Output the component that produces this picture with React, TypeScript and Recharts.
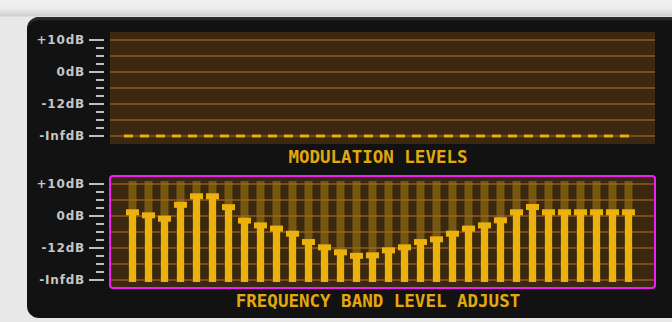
import { ComposedChart, Bar, Line, XAxis, YAxis, CartesianGrid } from "recharts"

// 32 frequency bands, slider positions in grid steps (0 = -InfdB, 2 = -12dB, 4 = 0dB, 6 = +10dB)
const bands = [1, 2, 3, 4, 5, 6, 7, 8, 9, 10, 11, 12, 13, 14, 15, 16, 17, 18, 19, 20, 21, 22, 23, 24, 25, 26, 27, 28, 29, 30, 31, 32]
const bandLevels = [4.42, 4.23, 4.02, 4.89, 5.42, 5.42, 4.74, 3.9, 3.6, 3.4, 3.08, 2.56, 2.23, 1.92, 1.7, 1.73, 2.04, 2.23, 2.56, 2.73, 3.08, 3.4, 3.6, 3.92, 4.42, 4.75, 4.42, 4.42, 4.42, 4.42, 4.42, 4.42]
const modulationLevels = [0, 0, 0, 0, 0, 0, 0, 0, 0, 0, 0, 0, 0, 0, 0, 0, 0, 0, 0, 0, 0, 0, 0, 0, 0, 0, 0, 0, 0, 0, 0, 0]

const axisTicks = [0, 0.5, 1, 1.5, 2, 2.5, 3, 3.5, 4, 4.5, 5, 5.5, 6]
const tickLabels: Record<number, string> = { 6: "+10dB", 4: "0dB", 2: "-12dB", 0: "-InfdB" }
const gridLevels = [0, 1, 2, 3, 4, 5, 6]

const data = bands.map((band, i) => ({ band, level: bandLevels[i], mod: modulationLevels[i] }))

const PLOT_BG = "#3a2810"
const GRID = "#7e4b1e"
const YELLOW = "#ebb20d"

function LevelTick(props: any) {
  const { x, y, payload } = props
  const label = tickLabels[payload.value]
  const major = label !== undefined
  return (
    <g>
      <line x1={x - (major ? 21 : 14)} x2={x - 6} y1={y} y2={y} stroke="#bdbdbd" strokeWidth={2} />
      {major && (
        <text
          x={x - 25}
          y={y}
          dy={4}
          textAnchor="end"
          fill="#c6c6c6"
          fontSize={12}
          fontWeight="bold"
          fontFamily="DejaVu Sans"
          letterSpacing={0.8}
        >
          {label}
        </text>
      )}
    </g>
  )
}

// slider: faint track behind, stem + cap in yellow
function SliderShape(props: any) {
  const { x, y, width, height, background } = props
  const cx = x + width / 2
  const bottom = y + height + 2
  const trackTop = background ? background.y + 5 : y
  return (
    <g>
      <rect x={cx - 4} y={trackTop} width={8} height={bottom - trackTop} fill="#9a7412" fillOpacity={0.62} />
      <rect x={cx - 3.5} y={y + 4} width={7} height={bottom - y - 4} fill={YELLOW} />
      <rect x={x} y={y} width={width} height={6} fill={YELLOW} />
    </g>
  )
}

const titleStyle: React.CSSProperties = {
  position: "absolute",
  left: 378,
  transform: "translateX(-50%)",
  color: "#e2a90e",
  fontFamily: "DejaVu Sans Mono",
  fontWeight: "bold",
  fontSize: 17.5,
  lineHeight: "18px",
  whiteSpace: "nowrap",
}

function LevelAxis() {
  return (
    <YAxis
      type="number"
      domain={[-0.5, 6.5]}
      ticks={axisTicks}
      interval={0}
      width={100}
      tickSize={0}
      tickMargin={0}
      axisLine={false}
      tickLine={false}
      tick={<LevelTick />}
    />
  )
}

export default function App() {
  return (
    <div
      style={{
        position: "absolute",
        left: 0,
        top: 0,
        width: 672,
        height: 322,
        overflow: "hidden",
        background: "linear-gradient(#f0f0f0 0px, #ececec 8px, #cfcfcf 16px, #e8e8e8 17px)",
      }}
    >
      <div
        style={{
          position: "absolute",
          left: 27,
          top: 17,
          width: 700,
          height: 301,
          background: "#121212",
          borderRadius: 12,
          boxShadow: "inset 0 4px 2px -1px #2c2c2c",
        }}
      />

      <div style={{ position: "absolute", left: 0, top: 0 }}>
        <ComposedChart width={672} height={160} data={data} margin={{ top: 32, right: 17, bottom: 16, left: 10 }}>
          <CartesianGrid vertical={false} horizontalValues={gridLevels} stroke={GRID} strokeWidth={2} fill={PLOT_BG} fillOpacity={1} />
          <XAxis dataKey="band" type="category" hide padding={{ left: 14, right: 19 }} />
          {LevelAxis()}
          <Line
            dataKey="mod"
            type="linear"
            stroke="#e6ac10"
            strokeWidth={3}
            strokeDasharray="9 7"
            dot={false}
            isAnimationActive={false}
          />
        </ComposedChart>
      </div>
      <div style={{ ...titleStyle, top: 148 }}>MODULATION LEVELS</div>

      <div style={{ position: "absolute", left: 0, top: 160 }}>
        <ComposedChart width={672} height={162} data={data} margin={{ top: 16, right: 17, bottom: 34, left: 10 }}>
          <CartesianGrid vertical={false} horizontalValues={gridLevels} stroke={GRID} strokeWidth={2} fill={PLOT_BG} fillOpacity={1} />
          <XAxis dataKey="band" type="category" hide padding={{ left: 14, right: 19 }} />
          {LevelAxis()}
          <Bar dataKey="level" barSize={13} shape={<SliderShape />} isAnimationActive={false} />
        </ComposedChart>
      </div>
      <div
        style={{
          position: "absolute",
          left: 109,
          top: 175,
          width: 547,
          height: 114,
          border: "2px solid #f01ef0",
          borderRadius: 4,
          boxSizing: "border-box",
          pointerEvents: "none",
        }}
      />
      <div style={{ ...titleStyle, top: 292 }}>FREQUENCY BAND LEVEL ADJUST</div>
    </div>
  )
}
